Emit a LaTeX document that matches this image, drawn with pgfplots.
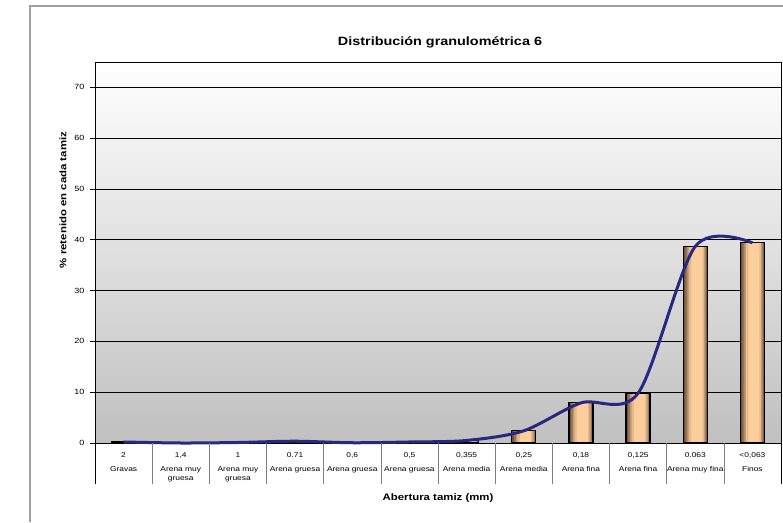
\documentclass[border=0pt]{standalone}
\usepackage{fontspec}
\setmainfont{Liberation Sans}[FakeStretch=1.2]
\usepackage{pgfplots}
\usepackage{pgfplotstable}
\pgfplotsset{compat=1.18}

% cylinder-like bar tones, from the dark rim to the bright core
\definecolor{barA}{RGB}{108,84,62}
\definecolor{barB}{RGB}{150,116,85}
\definecolor{barC}{RGB}{194,154,114}
\definecolor{barD}{RGB}{230,186,140}
\definecolor{barE}{RGB}{252,206,156}
\definecolor{curvecol}{RGB}{40,40,130}
\definecolor{plotbottom}{RGB}{192,192,192}
\definecolor{framecol}{RGB}{160,160,160}

% % retenido en cada tamiz, one row per sieve
\pgfplotstableread{
x val
0  0.2
1  0.0
2  0.1
3  0.35
4  0.05
5  0.2
6  0.5
7  2.4
8  7.9
9  9.8
10 38.7
11 39.4
}\granulo

\pgfplotsset{
  barlayer/.style 2 args={ybar, bar shift=#2, bar width=#1, draw=none},
}

\begin{document}
\begin{tikzpicture}[x=1pt,y=1pt]
\path[use as bounding box] (0,0) rectangle (783,522);
\draw[framecol, line width=1.2pt] (30,0) -- (30,516) -- (783,516);
\begin{axis}[
  at={(95pt,79pt)}, anchor=south west,
  scale only axis, width=686pt, height=381pt,
  xmin=-0.5, xmax=11.5, ymin=0, ymax=75,
  clip=false,
  axis background/.style={top color=white, bottom color=plotbottom},
  axis line style={black, line width=0.8pt},
  ytick={0,10,...,70}, ytick pos=left,
  ymajorgrids, grid style={black, line width=0.6pt},
  tick align=outside,
  ytick style={black, line width=0.6pt},
  major tick length=5pt,
  /pgf/number format/assume math mode=true,
  yticklabel style={font=\fontsize{7.5}{9}\selectfont, xshift=-2pt},
  xtick={0,...,11}, xtick pos=bottom,
  xtick style={draw=none},
  xticklabels={
    {2\\[5pt]Gravas},
    {1,4\\[5pt]Arena muy\\gruesa},
    {1\\[5pt]Arena muy\\gruesa},
    {0.71\\[5pt]Arena gruesa},
    {0,6\\[5pt]Arena gruesa},
    {0,5\\[5pt]Arena gruesa},
    {0,355\\[5pt]Arena media},
    {0,25\\[5pt]Arena media},
    {0,18\\[5pt]Arena fina},
    {0,125\\[5pt]Arena fina},
    {0.063\\[5pt]Arena muy fina},
    {<0,063\\[5pt]Finos}},
  xticklabel style={font=\fontsize{7}{9}\selectfont, align=center, anchor=north, yshift=-1pt},
]
% shaded bars, built up in layers
\addplot[barlayer={24pt}{0pt}, fill=barA] table[x=x, y=val] {\granulo};
\addplot[barlayer={21pt}{0.5pt}, fill=barB] table[x=x, y=val] {\granulo};
\addplot[barlayer={18pt}{1pt}, fill=barC] table[x=x, y=val] {\granulo};
\addplot[barlayer={15pt}{1pt}, fill=barD] table[x=x, y=val] {\granulo};
\addplot[barlayer={11pt}{1.5pt}, fill=barE] table[x=x, y=val] {\granulo};
\addplot[ybar, bar shift=0pt, bar width=24pt, fill=none, draw=black, line width=1.2pt]
  table[x=x, y=val] {\granulo};
% smoothed trend through the same values
\addplot[curvecol, line width=3pt, smooth, tension=0.5, mark=none]
  table[x=x, y=val] {\granulo};
% category separators below the axis
\pgfplotsinvokeforeach{0.5,1.5,...,10.5}{
  \draw[gray, line width=0.6pt] (axis cs:#1,0) -- ([yshift=-41pt]axis cs:#1,0);
}
\draw[black, line width=0.8pt] (rel axis cs:0,0) -- ([yshift=-41pt]rel axis cs:0,0);
\draw[black, line width=0.8pt] (rel axis cs:1,0) -- ([yshift=-41pt]rel axis cs:1,0);
\end{axis}
\node[font=\bfseries\fontsize{12}{14}\selectfont] at (440,480) {Distribución granulométrica 6};
\node[font=\bfseries\fontsize{9.5}{11}\selectfont, rotate=90] at (63,322) {\% retenido en cada tamiz};
\node[font=\bfseries\fontsize{9.5}{11}\selectfont] at (438,24) {Abertura tamiz (mm)};
\end{tikzpicture}
\end{document}
